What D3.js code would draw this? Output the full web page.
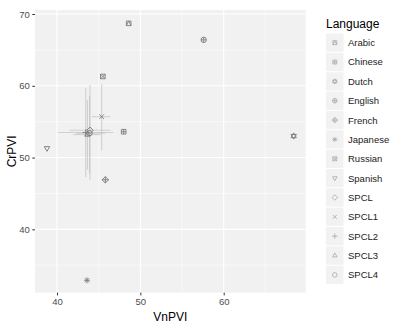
<!DOCTYPE html>
<html>
<head>
<meta charset="utf-8">
<script src="https://cdn.jsdelivr.net/npm/d3@7"></script>
<style>
  html, body { margin: 0; padding: 0; background: #fff; }
  svg { display: block; font-family: "Liberation Sans", Arial, Helvetica, sans-serif; }
</style>
</head>
<body>
<svg id="chart" width="406" height="333"></svg>
<script>
// Languages, in legend order
const languages = ["Arabic", "Chinese", "Dutch", "English", "French", "Japanese",
  "Russian", "Spanish", "SPCL", "SPCL1", "SPCL2", "SPCL3", "SPCL4"];
// ggplot-style shape code per language
const shapeCodes = [14, 12, 11, 10, 9, 8, 7, 6, 5, 4, 3, 2, 1];
// Vocalic nPVI (x) and consonantal rPVI (y)
const vnPVI = [48.6, 48.0, 68.4, 57.6, 45.8, 43.6, 45.5, 38.8, 43.96, 45.36, 43.45, 43.65, 43.9];
const crPVI = [68.7, 53.6, 53.0, 66.4, 46.9, 32.9, 61.3, 51.3, 53.8, 55.7, 53.5, 53.2, 53.4];
// Spread ranges for the SPCL groups (null where none is drawn)
const xLow  = [null, null, null, null, null, null, null, null, 41.5, 44.2, 40.1, 41.95, 42.3];
const xHigh = [null, null, null, null, null, null, null, null, 46.4, 46.4, 46.75, 45.2, 45.8];
const yLow  = [null, null, null, null, null, null, null, null, 46.9, 51.0, 47.3, 48.3, 47.8];
const yHigh = [null, null, null, null, null, null, null, null, 60.1, 60.2, 59.65, 58.0, 58.6];
// Axis ticks
const xTicks = [40, 50, 60];
const yTicks = [40, 50, 60, 70];
const xMinor = [45, 55, 65];
const yMinor = [35, 45, 55, 65];

const rows = languages.map((lang, i) => ({
  lang, shape: shapeCodes[i], x: vnPVI[i], y: crPVI[i],
  xl: xLow[i], xh: xHigh[i], yl: yLow[i], yh: yHigh[i]
}));

const svg = d3.select("#chart");
const panel = { left: 35, top: 10, right: 305.7, bottom: 292.7 };

const x = d3.scaleLinear().domain([37.36, 69.84]).range([panel.left, panel.right]);
const y = d3.scaleLinear().domain([31.17, 70.56]).range([panel.bottom, panel.top]);

// panel background
svg.append("rect")
  .attr("x", panel.left).attr("y", panel.top)
  .attr("width", panel.right - panel.left).attr("height", panel.bottom - panel.top)
  .attr("fill", "#ebebeb").attr("fill-opacity", 0.7);

const grid = svg.append("g");
grid.selectAll(".vminor").data(xMinor).join("line")
  .attr("x1", d => x(d)).attr("x2", d => x(d))
  .attr("y1", panel.top).attr("y2", panel.bottom)
  .attr("stroke", "#fff").attr("stroke-width", 0.55);
grid.selectAll(".hminor").data(yMinor).join("line")
  .attr("y1", d => y(d)).attr("y2", d => y(d))
  .attr("x1", panel.left).attr("x2", panel.right)
  .attr("stroke", "#fff").attr("stroke-width", 0.55);
grid.selectAll(".vmajor").data(xTicks).join("line")
  .attr("x1", d => x(d)).attr("x2", d => x(d))
  .attr("y1", panel.top).attr("y2", panel.bottom)
  .attr("stroke", "#fff").attr("stroke-width", 1.1);
grid.selectAll(".hmajor").data(yTicks).join("line")
  .attr("y1", d => y(d)).attr("y2", d => y(d))
  .attr("x1", panel.left).attr("x2", panel.right)
  .attr("stroke", "#fff").attr("stroke-width", 1.1);

// axes
const xAxis = d3.axisBottom(x).tickValues(xTicks).tickSize(2.7).tickPadding(2.5);
const yAxis = d3.axisLeft(y).tickValues(yTicks).tickSize(2.7).tickPadding(2.5);
const gx = svg.append("g").attr("transform", `translate(0,${panel.bottom})`).call(xAxis);
const gy = svg.append("g").attr("transform", `translate(${panel.left},0)`).call(yAxis);
[gx, gy].forEach(g => {
  g.select(".domain").remove();
  g.selectAll(".tick line").attr("stroke", "#333").attr("stroke-width", 1);
  g.selectAll(".tick text").attr("fill", "#4d4d4d").attr("font-size", 9.5)
    .attr("font-family", "Liberation Sans, Arial, sans-serif");
});

svg.append("text").attr("x", (panel.left + panel.right) / 2).attr("y", 321)
  .attr("text-anchor", "middle").attr("font-size", 12).attr("fill", "#000").text("VnPVI");
svg.append("text")
  .attr("transform", `translate(16,${(panel.top + panel.bottom) / 2}) rotate(-90)`)
  .attr("text-anchor", "middle").attr("font-size", 12).attr("fill", "#000").text("CrPVI");

// shape glyphs, centered on the origin
function shapePath(code, r) {
  const p = d3.path();
  const circle = rr => { p.moveTo(rr, 0); p.arc(0, 0, rr, 0, 2 * Math.PI); };
  const square = s => { p.rect(-s, -s, 2 * s, 2 * s); };
  const plus = s => { p.moveTo(-s, 0); p.lineTo(s, 0); p.moveTo(0, -s); p.lineTo(0, s); };
  const cross = s => { p.moveTo(-s, -s); p.lineTo(s, s); p.moveTo(-s, s); p.lineTo(s, -s); };
  const triUp = s => { p.moveTo(0, -s * 1.15); p.lineTo(s, s * 0.6); p.lineTo(-s, s * 0.6); p.closePath(); };
  const triDown = s => { p.moveTo(0, s * 1.15); p.lineTo(s, -s * 0.6); p.lineTo(-s, -s * 0.6); p.closePath(); };
  const diamond = s => { p.moveTo(0, -s); p.lineTo(s, 0); p.lineTo(0, s); p.lineTo(-s, 0); p.closePath(); };
  switch (code) {
    case 1: circle(r); break;
    case 2: triUp(r); break;
    case 3: plus(r * 1.2); break;
    case 4: cross(r * 0.85); break;
    case 5: diamond(r * 1.2); break;
    case 6: triDown(r); break;
    case 7: square(r * 0.85); cross(r * 0.85); break;
    case 8: plus(r * 1.1); cross(r * 0.8); break;
    case 9: diamond(r * 1.2); plus(r * 1.2); break;
    case 10: circle(r); plus(r); break;
    case 11: triUp(r); triDown(r); break;
    case 12: square(r * 0.85); plus(r * 0.85); break;
    case 14: square(r * 0.85);
      p.moveTo(-r * 0.85, r * 0.85); p.lineTo(0, -r * 0.85); p.lineTo(r * 0.85, r * 0.85); break;
  }
  return p.toString();
}

// spread bars
const bars = rows.filter(d => d.xl !== null);
const eb = svg.append("g").attr("stroke", "#c4c4c4").attr("stroke-opacity", 0.75).attr("stroke-width", 1.1);
eb.selectAll(".vbar").data(bars).join("line")
  .attr("x1", d => x(d.x)).attr("x2", d => x(d.x))
  .attr("y1", d => y(d.yl)).attr("y2", d => y(d.yh));
eb.selectAll(".hbar").data(bars).join("line")
  .attr("y1", d => y(d.y)).attr("y2", d => y(d.y))
  .attr("x1", d => x(d.xl)).attr("x2", d => x(d.xh));

// points
svg.append("g").selectAll("path").data(rows).join("path")
  .attr("transform", d => `translate(${x(d.x)},${y(d.y)})`)
  .attr("d", d => shapePath(d.shape, 2.7))
  .attr("fill", "none").attr("stroke", "#7a7a7a").attr("stroke-width", 0.9);

// legend
const lg = svg.append("g");
lg.append("text").attr("x", 326).attr("y", 27.5).attr("font-size", 12).attr("fill", "#000").text("Language");
const step = 19.35, top0 = 42.7;
const items = lg.selectAll(".item").data(rows).join("g")
  .attr("transform", (d, i) => `translate(0,${top0 + i * step})`);
items.append("rect").attr("x", 326).attr("y", -step / 2 + 0.5).attr("width", 17.5).attr("height", step - 1)
  .attr("fill", "#f2f2f2");
items.append("path").attr("transform", "translate(334.8,0)")
  .attr("d", d => shapePath(d.shape, 2.3))
  .attr("fill", "none").attr("stroke", "#a8a8a8").attr("stroke-width", 0.8);
items.append("text").attr("x", 348).attr("y", 3.4).attr("font-size", 9.5).attr("fill", "#1a1a1a")
  .text(d => d.lang);
</script>
</body>
</html>
